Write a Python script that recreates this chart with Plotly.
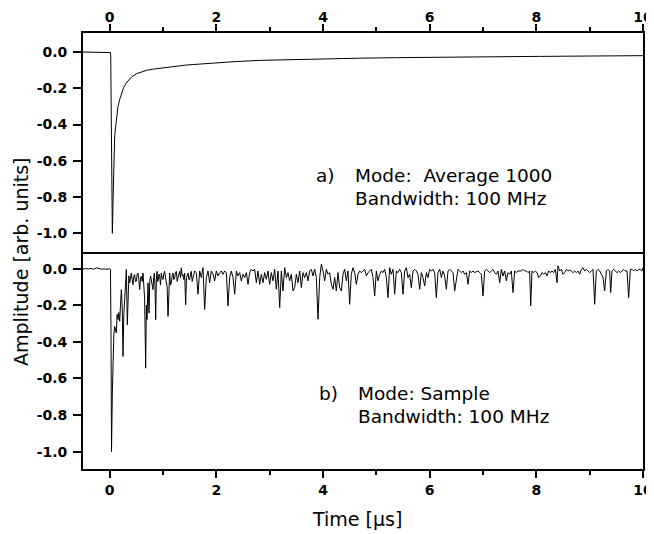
import plotly.graph_objects as go

# ---------------- data ----------------
# a) Mode: Average 1000
top_time = [-0.5, -0.25, 0.0, 0.015, 0.02, 0.03, 0.04, 0.05, 0.056, 0.063, 0.072, 0.081,
            0.095, 0.113, 0.135, 0.156, 0.19, 0.219, 0.26, 0.31, 0.36, 0.41, 0.5, 0.6,
            0.69, 0.8, 0.94, 1.1, 1.25, 1.4, 1.56, 1.8, 2.0, 2.4, 2.81, 3.4, 4.0, 4.69,
            5.4, 6.19, 7.1, 8.06, 9.0, 9.94, 10.0]
top_amp = [0.0, 0.0, 0.0, -0.003, -0.02, -0.3, -0.75, -1.0, -0.93, -0.816, -0.66, -0.52,
           -0.46, -0.41, -0.345, -0.30, -0.26, -0.227, -0.197, -0.171, -0.153, -0.138, -0.12, -0.108,
           -0.101, -0.095, -0.089, -0.083, -0.078, -0.073, -0.069, -0.063, -0.058, -0.052, -0.046, -0.041, -0.037, -0.034,
           -0.031, -0.028, -0.026, -0.024, -0.022, -0.020, -0.020]

# b) Mode: Sample
bot_time = [
    -0.5, -0.45, -0.4, -0.35, -0.3, -0.25, -0.2, -0.15, -0.1, -0.05, 0.0, 0.015,
    0.025, 0.035, 0.05, 0.063, 0.078, 0.094, 0.11, 0.125, 0.14, 0.156, 0.172, 0.188,
    0.203, 0.219, 0.235, 0.25, 0.266, 0.281, 0.297, 0.313, 0.331, 0.345, 0.36, 0.375,
    0.39, 0.406, 0.422, 0.438, 0.453, 0.469, 0.485, 0.5, 0.516, 0.531, 0.547, 0.563,
    0.578, 0.594, 0.61, 0.625, 0.64, 0.656, 0.675, 0.688, 0.7, 0.719, 0.738, 0.753,
    0.769, 0.79, 0.813, 0.825, 0.838, 0.85, 0.863, 0.875, 0.888, 0.9, 0.913, 0.925,
    0.938, 0.953, 0.969, 0.985, 1.0, 1.016, 1.031, 1.047, 1.063, 1.078, 1.094, 1.11,
    1.125, 1.14, 1.156, 1.172, 1.188, 1.203, 1.219, 1.235, 1.25, 1.266, 1.281, 1.297,
    1.313, 1.328, 1.344, 1.36, 1.375, 1.39, 1.406, 1.415, 1.425, 1.44, 1.453, 1.469,
    1.485, 1.5, 1.516, 1.531, 1.547, 1.563, 1.578,
    1.594, 1.625, 1.656, 1.688, 1.719, 1.75, 1.781, 1.813, 1.844, 1.875, 1.906, 1.938,
    1.969, 2.0, 2.031, 2.063, 2.094, 2.125, 2.156, 2.188, 2.219, 2.25, 2.281, 2.313,
    2.344, 2.375, 2.406, 2.438, 2.469, 2.5, 2.531, 2.563, 2.594, 2.625, 2.656, 2.688,
    2.719, 2.75, 2.781, 2.813, 2.844, 2.875, 2.906, 2.938, 2.969, 3.0, 3.031, 3.063,
    3.094, 3.125, 3.156, 3.188, 3.219, 3.25, 3.281, 3.313, 3.344, 3.375, 3.406, 3.438,
    3.469, 3.5, 3.531, 3.563, 3.594, 3.625, 3.656,
    3.688, 3.719, 3.75, 3.781, 3.813, 3.844, 3.875, 3.906, 3.938, 3.969, 4.0, 4.031,
    4.063, 4.094, 4.125, 4.156, 4.188, 4.219, 4.25, 4.281, 4.313, 4.344, 4.375, 4.406,
    4.438, 4.469, 4.5, 4.531, 4.563, 4.594, 4.625, 4.656, 4.688, 4.719, 4.75, 4.781,
    4.813, 4.844, 4.875, 4.906, 4.938, 4.969, 5.0, 5.031, 5.063, 5.094, 5.125, 5.156,
    5.188, 5.219, 5.25, 5.281, 5.313, 5.344, 5.375, 5.406, 5.438, 5.469, 5.5, 5.531,
    5.563, 5.594, 5.625, 5.656, 5.688, 5.719,
    5.75, 5.781, 5.813, 5.844, 5.875, 5.906, 5.938, 5.969, 6.0, 6.031, 6.063, 6.094,
    6.125, 6.156, 6.188, 6.219, 6.25, 6.281, 6.313, 6.344, 6.375, 6.406, 6.438, 6.469,
    6.5, 6.531, 6.563, 6.594, 6.625, 6.656, 6.688, 6.719, 6.75, 6.781, 6.813, 6.844,
    6.875, 6.906, 6.938, 6.969, 7.0, 7.031, 7.063, 7.094, 7.125, 7.156, 7.188, 7.219,
    7.25, 7.281, 7.313, 7.344, 7.375, 7.406, 7.438, 7.469, 7.5, 7.531, 7.563, 7.594,
    7.625, 7.656, 7.688, 7.719, 7.75, 7.781,
    7.813, 7.844, 7.875, 7.894, 7.919, 7.95, 7.981, 8.013, 8.044, 8.075, 8.106, 8.138,
    8.169, 8.2, 8.231, 8.263, 8.294, 8.325, 8.356, 8.388, 8.406, 8.438, 8.469, 8.5,
    8.531, 8.563, 8.594, 8.625, 8.656, 8.688, 8.719, 8.75, 8.781, 8.813, 8.844, 8.875,
    8.906, 8.938, 8.969, 9.0, 9.031, 9.063, 9.094, 9.125, 9.156, 9.188, 9.219, 9.25,
    9.281, 9.313, 9.344, 9.375, 9.394, 9.419, 9.45, 9.481, 9.513, 9.544, 9.575, 9.606,
    9.638, 9.669, 9.7, 9.731, 9.763, 9.794, 9.825, 9.856, 9.888, 9.919, 9.95, 9.981,
    10.0]
bot_amp = [
    -0.003, 0.0, -0.002, 0.001, -0.004, 0.004, 0.001, -0.003, -0.002, -0.004, -0.001, -0.004,
    -0.35, -1.0, -0.68, -0.44, -0.36, -0.316, -0.33, -0.352, -0.25, -0.279, -0.24, -0.288,
    -0.2, -0.115, -0.21, -0.48, -0.25, -0.151, -0.06, -0.005, -0.307, -0.09, -0.04, -0.078,
    -0.05, -0.024, -0.06, -0.088, -0.04, -0.033, -0.07, -0.069, -0.03, -0.024, -0.06, -0.115,
    -0.05, -0.042, -0.07, -0.024, -0.09, -0.17, -0.544, -0.2, -0.279, -0.078, -0.243, -0.06,
    -0.042, -0.08, -0.115, -0.05, -0.024, -0.1, -0.279, -0.06, -0.015, -0.07, -0.06, -0.03,
    -0.042, -0.09, -0.024, -0.05, -0.06, -0.03, -0.015, -0.05, -0.078, -0.1, -0.261, -0.06,
    -0.024, -0.09, -0.078, -0.04, -0.024, -0.06, -0.051, -0.02, -0.015, -0.07, -0.042, -0.03,
    -0.015, -0.05, 0.004, -0.04, -0.033, -0.06, -0.024, -0.08, -0.197, -0.05, -0.03, -0.024,
    -0.06, -0.06, -0.03, -0.015, -0.07, -0.042, -0.02,
    -0.013, -0.022, -0.14, -0.013, -0.049, 0.005, -0.223, -0.049, -0.013, -0.077, -0.013, -0.031,
    -0.067, -0.013, -0.04, -0.022, -0.013, -0.031, -0.013, -0.022, -0.204, -0.049, -0.013, -0.049,
    -0.14, -0.013, -0.04, -0.022, -0.067, -0.031, -0.049, -0.022, -0.086, -0.022, -0.004, -0.013,
    -0.004, -0.077, -0.013, -0.086, -0.031, -0.077, -0.022, -0.058, -0.013, -0.086, -0.022, -0.067,
    -0.004, -0.113, -0.013, -0.213, -0.013, -0.122, 0.005, -0.049, -0.022, -0.067, -0.031, -0.122,
    -0.104, -0.031, -0.077, -0.013, -0.104, -0.022, -0.049,
    -0.022, -0.067, -0.013, -0.004, -0.04, -0.004, -0.049, -0.277, -0.049, 0.024, -0.013, -0.067,
    -0.004, -0.031, -0.022, -0.086, -0.113, -0.049, -0.122, -0.022, -0.104, -0.122, -0.031, -0.004,
    -0.067, -0.013, -0.195, -0.031, 0.005, -0.022, -0.086, -0.031, -0.013, -0.022, -0.013, -0.004,
    -0.04, -0.022, -0.013, -0.004, -0.049, -0.15, -0.013, -0.067, -0.031, -0.013, -0.022, -0.004,
    -0.049, -0.159, 0.005, -0.031, -0.004, -0.14, -0.013, -0.022, -0.004, -0.022, -0.14, -0.013,
    0.005, -0.049, -0.031, -0.104, -0.013, -0.004,
    -0.013, -0.031, -0.113, -0.022, -0.049, -0.095, -0.022, -0.049, -0.004, -0.013, -0.004, -0.022,
    -0.159, -0.022, -0.004, -0.049, -0.013, -0.04, -0.113, -0.013, -0.004, -0.013, -0.022, -0.122,
    -0.049, -0.004, -0.013, -0.022, -0.013, -0.031, -0.022, -0.086, -0.013, -0.022, -0.013, -0.022,
    -0.017, -0.013, -0.022, -0.031, -0.15, -0.013, -0.004, -0.013, -0.022, -0.013, -0.004, -0.022,
    -0.031, -0.013, -0.077, -0.004, -0.04, -0.013, -0.067, -0.022, -0.031, -0.013, -0.131, -0.013,
    -0.022, -0.013, -0.013, -0.013, -0.004, -0.013,
    -0.013, -0.022, -0.013, -0.204, -0.013, -0.022, -0.013, -0.022, -0.049, -0.04, -0.022, -0.031,
    -0.022, -0.04, -0.013, -0.022, -0.013, -0.022, -0.004, -0.077, 0.015, -0.013, -0.004, -0.031,
    -0.022, -0.004, -0.013, -0.009, -0.013, -0.022, -0.013, -0.022, -0.013, -0.031, -0.004, 0.005,
    -0.013, -0.004, -0.013, -0.022, -0.013, -0.004, -0.195, -0.013, -0.004, -0.013, -0.031, -0.049,
    -0.122, -0.013, -0.004, -0.013, -0.131, -0.013, -0.004, -0.013, -0.022, -0.013, -0.022, -0.013,
    -0.004, -0.013, -0.013, -0.159, -0.004, -0.004, -0.013, -0.004, -0.013, -0.004, -0.004, -0.013,
    0.005]

x_ticks = [0, 2, 4, 6, 8, 10]
x_minor = [1, 3, 5, 7, 9]
y_ticks = [-1.0, -0.8, -0.6, -0.4, -0.2, 0.0]
y_ticktext = ["-1.0", "-0.8", "-0.6", "-0.4", "-0.2", "0.0"]

# ---------------- figure ----------------
fig = go.Figure()
fig.add_trace(go.Scatter(x=top_time, y=top_amp, mode="lines", xaxis="x2", yaxis="y2",
                         line=dict(color="black", width=1), showlegend=False))
fig.add_trace(go.Scatter(x=bot_time, y=bot_amp, mode="lines", xaxis="x", yaxis="y",
                         line=dict(color="black", width=1), showlegend=False))

tickfont = dict(family="DejaVu Sans", size=14, color="black", weight="bold")
xcommon = dict(range=[-0.5, 10], tickvals=x_ticks, ticks="outside", ticklen=7, tickwidth=1.5,
               tickcolor="black", showline=True, linewidth=1.8, linecolor="black",
               showgrid=False, zeroline=False, tickfont=tickfont, automargin=False,
               minor=dict(tickvals=x_minor, ticks="outside", ticklen=4, tickwidth=1.5,
                          tickcolor="black", showgrid=False))
ycommon = dict(tickvals=y_ticks, ticktext=y_ticktext, ticks="outside", ticklen=8, tickwidth=1.5,
               tickcolor="black", showline=True, linewidth=1.8, linecolor="black", mirror=True,
               showgrid=False, zeroline=False, tickfont=tickfont, automargin=False,
               ticklabelstandoff=3)

# the page body adds an 8 px offset; the figure is sized so the plot lands on the reference box
split = 0.497
fig.update_layout(
    width=646, height=526, autosize=False,
    margin=dict(l=75, r=11, t=25, b=65, autoexpand=False, pad=0),
    paper_bgcolor="white", plot_bgcolor="white",
    xaxis=dict(anchor="y", side="bottom", domain=[0, 1], mirror=False, **xcommon),
    xaxis2=dict(anchor="y2", side="top", domain=[0, 1], mirror=True, ticklabelstandoff=-3, **xcommon),
    yaxis=dict(anchor="x", domain=[0, split], range=[-1.095, 0.089], **ycommon),
    yaxis2=dict(anchor="x2", domain=[split, 1], range=[-1.105, 0.105], **ycommon),
)

def px_x(px):
    return (px - 83) / 560.0

def px_y(py):
    return (469 - py) / 436.0

afont = dict(family="DejaVu Sans", size=18.5, color="black")
annots = [
    dict(text="a)", x=px_x(314), y=px_y(175), xanchor="left"),
    dict(text="Mode:  Average 1000", x=px_x(353), y=px_y(175), xanchor="left"),
    dict(text="Bandwidth: 100 MHz", x=px_x(353), y=px_y(198), xanchor="left"),
    dict(text="b)", x=px_x(317), y=px_y(393), xanchor="left"),
    dict(text="Mode: Sample", x=px_x(356), y=px_y(393), xanchor="left"),
    dict(text="Bandwidth: 100 MHz", x=px_x(356), y=px_y(416), xanchor="left"),
]
for a in annots:
    fig.add_annotation(xref="paper", yref="paper", showarrow=False, yanchor="middle",
                       font=afont, **a)

tfont = dict(family="DejaVu Sans", size=19, color="black")
fig.add_annotation(text="Time [\u03bcs]", xref="paper", yref="paper", x=px_x(357), y=px_y(519),
                   xanchor="center", yanchor="middle", showarrow=False, font=tfont)
fig.add_annotation(text="Amplitude [arb. units]", xref="paper", yref="paper", x=px_x(21), y=px_y(262),
                   xanchor="center", yanchor="middle", showarrow=False, textangle=-90, font=tfont)

fig.write_html("out.html")
